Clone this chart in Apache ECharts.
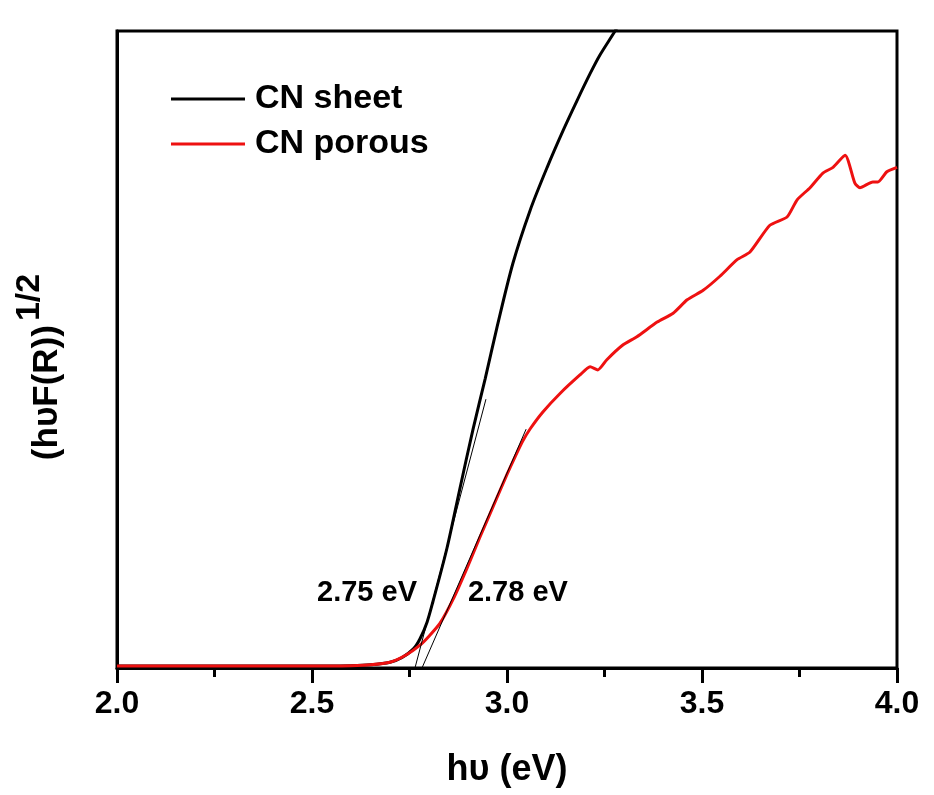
<!DOCTYPE html>
<html>
<head>
<meta charset="utf-8">
<script src="https://cdn.jsdelivr.net/npm/echarts@6/dist/echarts.min.js"></script>
<style>
  html, body { margin: 0; padding: 0; background: #fff; }
  #chart { width: 934px; height: 795px; }
</style>
</head>
<body>
<div id="chart"></div>
<script>
// x ticks
const xTicks = [2.0, 2.5, 3.0, 3.5, 4.0];

// CN sheet  [hv (eV), (hvF(R))^1/2 arb.]
const sheetX = [2.0, 2.2, 2.4, 2.538, 2.6, 2.65, 2.7, 2.73, 2.76, 2.777, 2.795, 2.81, 2.846, 2.879, 2.913, 2.944, 2.974, 3.015, 3.059, 3.103, 3.144, 3.179, 3.213, 3.238, 3.277, 3.30];
const sheetY = [0.3, 0.3, 0.3, 0.3, 0.35, 0.5, 0.9, 1.6, 3.0, 4.6, 7.2, 10.4, 18.8, 28.1, 37.5, 45.4, 53.4, 63.5, 71.8, 78.6, 84.4, 89.0, 93.3, 96.2, 100, 102.5];

// CN porous
const porousX = [2.0, 2.2, 2.4, 2.554, 2.6, 2.65, 2.7, 2.74, 2.777, 2.80, 2.828, 2.862, 2.897, 2.931, 2.964, 3.0, 3.021, 3.04, 3.06, 3.092, 3.136, 3.187, 3.213, 3.233, 3.256, 3.297, 3.333, 3.385, 3.426, 3.462, 3.503, 3.546, 3.59, 3.623, 3.674, 3.718, 3.744, 3.777, 3.81, 3.836, 3.867, 3.892, 3.905, 3.938, 3.951, 3.974, 4.0];
const porousY = [0.3, 0.3, 0.3, 0.3, 0.35, 0.5, 0.9, 2.0, 3.6, 5.0, 7.0, 10.8, 15.6, 20.6, 25.3, 30.4, 33.2, 35.6, 37.6, 40.2, 43.1, 46.0, 47.3, 46.8, 48.4, 50.7, 52.0, 54.3, 55.7, 57.8, 59.3, 61.5, 64.1, 65.3, 69.5, 70.8, 73.5, 75.4, 77.7, 78.6, 80.5, 76.1, 75.4, 76.3, 76.3, 77.9, 78.6];

// tangent lines (start, end)
const tangentSheet = [[2.764, 0], [2.946, 42.2]];
const tangentPorous = [[2.782, 0], [3.049, 37.5]];

// gap labels
const gapLabels = [
  { text: '2.75 eV', x: 2.641, y: 11.8 },
  { text: '2.78 eV', x: 3.028, y: 11.8 }
];

const zip = (xs, ys) => xs.map((x, i) => [x, ys[i]]);
const font = 'Liberation Sans, Arial, sans-serif';

const chart = echarts.init(document.getElementById('chart'));
chart.setOption({
  backgroundColor: '#fff',
  animation: false,
  grid: {
    left: 117, right: 37, top: 31, bottom: 127,
    show: true, borderColor: '#000', borderWidth: 3
  },
  legend: {
    data: [
      { name: 'CN sheet', icon: 'rect' },
      { name: 'CN porous', icon: 'rect' }
    ],
    orient: 'vertical',
    left: 166, top: 76,
    itemWidth: 74, itemHeight: 3, itemGap: 9,
    textStyle: { fontFamily: font, fontWeight: 'bold', fontSize: 34, color: '#000', lineHeight: 36, padding: [0, 0, 0, 5] }
  },
  xAxis: {
    type: 'value',
    min: 2, max: 4, interval: 0.5,
    axisLine: { show: true, lineStyle: { color: '#000', width: 3 } },
    axisTick: { show: true, length: 15, lineStyle: { color: '#000', width: 3 } },
    minorTick: { show: true, splitNumber: 2, length: 9, lineStyle: { color: '#000', width: 3 } },
    splitLine: { show: false },
    axisLabel: {
      margin: 20, fontFamily: font, fontWeight: 'bold', fontSize: 32, color: '#000',
      formatter: v => xTicks.includes(+v.toFixed(1)) ? v.toFixed(1) : ''
    },
    name: 'hυ (eV)',
    nameLocation: 'middle',
    nameGap: 84,
    nameTextStyle: { fontFamily: font, fontWeight: 'bold', fontSize: 36, color: '#000' }
  },
  yAxis: {
    type: 'value',
    min: 0, max: 100,
    axisLine: { show: true, lineStyle: { color: '#000', width: 3 } },
    axisTick: { show: false },
    axisLabel: { show: false },
    splitLine: { show: false },
    name: '{a|(hυF(R))}{b|1/2}',
    nameLocation: 'middle',
    nameRotate: 90,
    nameGap: 52,
    nameTextStyle: {
      rich: {
        a: { fontFamily: font, fontWeight: 'bold', fontSize: 35, color: '#000', lineHeight: 52, verticalAlign: 'bottom' },
        b: { fontFamily: font, fontWeight: 'bold', fontSize: 34, color: '#000', lineHeight: 52, verticalAlign: 'top', padding: [0, 35, 0, 4] }
      }
    }
  },
  series: [
    {
      name: 'CN sheet', type: 'line', data: zip(sheetX, sheetY),
      symbol: 'none', smooth: 0.3, clip: true,
      lineStyle: { color: '#000', width: 3 }, itemStyle: { color: '#000' }, z: 3
    },
    {
      name: 'CN porous', type: 'line', data: zip(porousX, porousY),
      symbol: 'none', smooth: 0.2, clip: true,
      lineStyle: { color: '#ee1111', width: 3 }, itemStyle: { color: '#ee1111' }, z: 4
    },
    {
      name: 'tan1', type: 'line', data: tangentSheet, symbol: 'none',
      lineStyle: { color: '#000', width: 1 }, z: 5
    },
    {
      name: 'tan2', type: 'line', data: tangentPorous, symbol: 'none',
      lineStyle: { color: '#000', width: 1 }, z: 5
    },
    {
      name: 'labels', type: 'scatter', symbolSize: 1,
      itemStyle: { color: 'rgba(0,0,0,0)' },
      data: gapLabels.map(d => ({ value: [d.x, d.y], label: { formatter: d.text } })),
      label: {
        show: true, position: 'inside', fontFamily: font, fontWeight: 'bold', fontSize: 29,
        color: '#000', opacity: 1, textBorderWidth: 0
      },
      emphasis: { disabled: true },
      z: 6
    }
  ]
});
</script>
</body>
</html>
